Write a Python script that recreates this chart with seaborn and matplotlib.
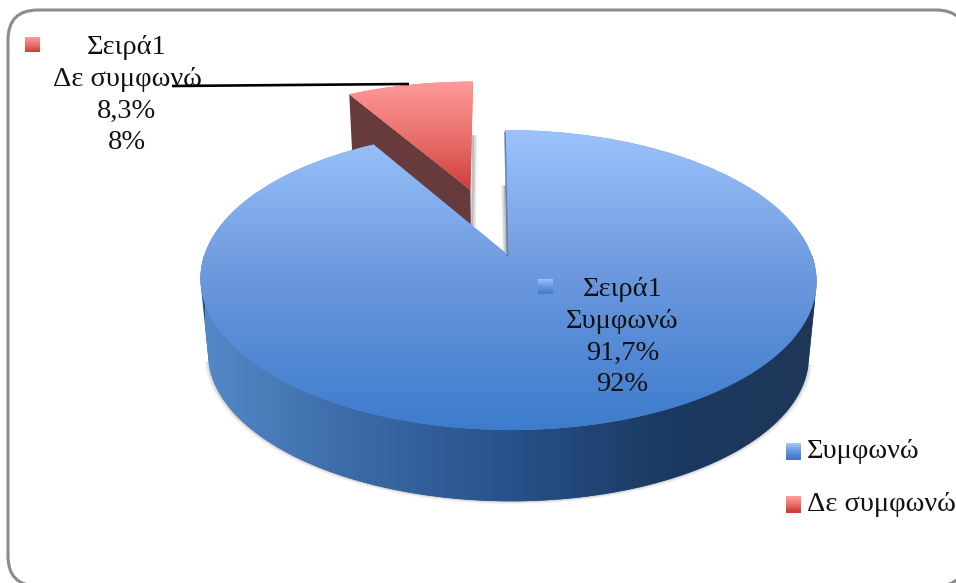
import numpy as np
import matplotlib
matplotlib.use("Agg")
import matplotlib.pyplot as plt
import seaborn as sns
from matplotlib.legend_handler import HandlerBase
from matplotlib.patches import FancyBboxPatch, Polygon, Rectangle, Wedge
from matplotlib.transforms import Affine2D, Transform

categories = ["Συμφωνώ", "Δε συμφωνώ"]
shares = [91.7, 8.3]
rounded = ["92%", "8%"]
share_labels = ["91,7%", "8,3%"]
series_name = "Σειρά1"
explode = [0, 0.5]

sns.set_theme(style="white")
plt.rcParams["font.family"] = ["Liberation Serif", "DejaVu Serif"]

blue_top = sns.blend_palette(["#9cc3fc", "#6a97dd", "#3c7bcc"], as_cmap=True)
blue_side = sns.blend_palette(["#5488c8", "#3a6aa6", "#27528a", "#1b3a62", "#1f3657"], as_cmap=True)
red_top = sns.blend_palette(["#ff9c9a", "#e9716d", "#cd3d38"], as_cmap=True)


class TiltedDisc(Transform):
    # pie circle -> pixels, perspective so the front looks bigger
    input_dims = output_dims = 2

    def transform_non_affine(self, values):
        x, y = np.asarray(values).T
        d = 1 + y / 6
        return np.column_stack([508 + (303.7 * x - 3 * y) / d, 255 - 145.83 * y / d])


tilt = TiltedDisc()
# bottom face of the disc: same shape, a bit smaller and lower
drop = Affine2D().translate(-509, -280).scale(0.975).translate(509, 355)


def arc(wedge, start=None, stop=None, n=300):
    t = np.radians(np.linspace(wedge.theta1 if start is None else start,
                               wedge.theta2 if stop is None else stop, n))
    cx, cy = wedge.center
    return np.column_stack([cx + wedge.r * np.cos(t), cy + wedge.r * np.sin(t)])


def hull(points):
    # convex outline, gives the real silhouette of the extruded disc
    pts = sorted(map(tuple, points))

    def half(seq):
        out = []
        for p in seq:
            while len(out) > 1 and np.cross(np.subtract(out[-1], out[-2]), np.subtract(p, out[-2])) <= 0:
                out.pop()
            out.append(p)
        return out[:-1]

    return np.array(half(pts) + half(pts[::-1]))


def fill(ax, patch, cmap, extent, horizontal=False, z=2):
    grad = np.linspace(0, 1, 256)
    grad = grad[None, :] if horizontal else grad[:, None]
    im = ax.imshow(grad, cmap=cmap, extent=extent, origin="upper", aspect="auto", zorder=z)
    im.set_clip_path(patch)
    return im


class GradientKey(HandlerBase):
    def create_artists(self, legend, orig, x, y, w, h, fontsize, trans):
        cmap = blue_top if orig.get_label() == categories[0] else red_top
        strips = []
        for i in range(8):
            strips.append(Rectangle((x, y + h * (7 - i) / 8), w, h / 8 + 0.2, color=cmap(i / 7), lw=0, transform=trans))
        return strips


fig = plt.figure(figsize=(9.56, 5.83), dpi=100)
ax = fig.add_axes([0, 0, 1, 1])

wedges, _ = ax.pie(shares, explode=explode, startangle=90, counterclock=False, radius=1,
                   wedgeprops={"linewidth": 0})
blue, red = wedges
for w, label in zip(wedges, categories):
    w.set_label(label)

ax.set_aspect("auto")
ax.axis("off")

# chart frame
ax.add_patch(FancyBboxPatch((8 + 30, 10 + 30), 966 - 8 - 60, 586 - 10 - 60,
                            boxstyle="round,pad=30,rounding_size=30",
                            fc="white", ec="#8c8c8c", lw=2.2, zorder=0))

# red slice: cut face first, blue covers the lower part of it
tip = tilt.transform(np.array([red.center]))
rim_pt = tilt.transform(arc(red)[-1:])
cut = np.vstack([tip, rim_pt, drop.transform(rim_pt), drop.transform(tip)])
ax.add_patch(Polygon(cut, closed=True, fc="#673b3b", lw=0, zorder=2))

red.set_transform(tilt + ax.transData)
red.set_facecolor("#e9716d")
red.set_zorder(3)
fill(ax, red, red_top, (340, 480, 192, 80), z=3)

# soft grey shadows beside the cuts
for off, alpha in zip([1, 2.5, 4], [0.35, 0.22, 0.1]):
    ax.plot([472 + off, 471 + off], [136, 226], color="#555555", alpha=alpha, lw=1.5, zorder=2)
    ax.plot([506 - off, 507.5 - off], [186, 252], color="#555555", alpha=alpha, lw=1.5, zorder=2)

# blue slice: outer shadow, side, then top face
front = tilt.transform(arc(blue, -180, 0))
front_low = drop.transform(front)
outline = hull(np.vstack([front, front_low]))
lower = outline[outline[:, 1] > 305]
for k, alpha in zip([1.014, 1.009, 1.004], [0.06, 0.09, 0.13]):
    shadow = Affine2D().translate(-509, -300).scale(k).translate(509, 300).transform(lower)
    ax.add_patch(Polygon(shadow, closed=True, fc="#444444", alpha=alpha, lw=0, zorder=3.5))

side = Polygon(outline, closed=True, fc="#27528a", lw=0, zorder=4)
ax.add_patch(side)
fill(ax, side, blue_side, (205, 815, 510, 120), horizontal=True, z=4)

blue.set_transform(tilt + ax.transData)
blue.set_facecolor("#6a97dd")
blue.set_zorder(5)
fill(ax, blue, blue_top, (195, 825, 432, 128), z=5)

# dark edge of the cut at 12 o'clock
ax.plot([505, 507.5], [132, 256], color="#4a6a96", lw=1.1, alpha=0.8, zorder=6)

# data labels
label_x = [622.5, 127]
label_y = [290, 48]
key_box = [(538, 553, 294, 279), (25, 40, 52, 37)]
for i in range(2):
    lines = [series_name, categories[i], share_labels[i], rounded[i]]
    for j, line in enumerate(lines):
        ax.text(label_x[i], label_y[i] + j * 31.6, line, ha="center", va="center",
                fontsize=20.5, color="#111111", zorder=8)
    grad = np.linspace(0, 1, 64)[:, None]
    ax.imshow(grad, cmap=[blue_top, red_top][i], extent=key_box[i], origin="upper", aspect="auto", zorder=7)

# leader line for the red slice
ax.plot([172, 409], [86, 84], color="black", lw=1.9, zorder=9, solid_capstyle="butt")

ax.set_xlim(0, 956)
ax.set_ylim(583, 0)

ax.legend(wedges, categories, handler_map={Wedge: GradientKey()}, frameon=False,
          loc="upper left", bbox_to_anchor=(786 / 956, 1 - 439 / 583), borderaxespad=0, borderpad=0,
          fontsize=20.5, handlelength=0.527, handleheight=0.527, handletextpad=0.22,
          labelspacing=0.98, labelcolor="#111111").set_zorder(10)

fig.savefig("out.png", dpi=100)
